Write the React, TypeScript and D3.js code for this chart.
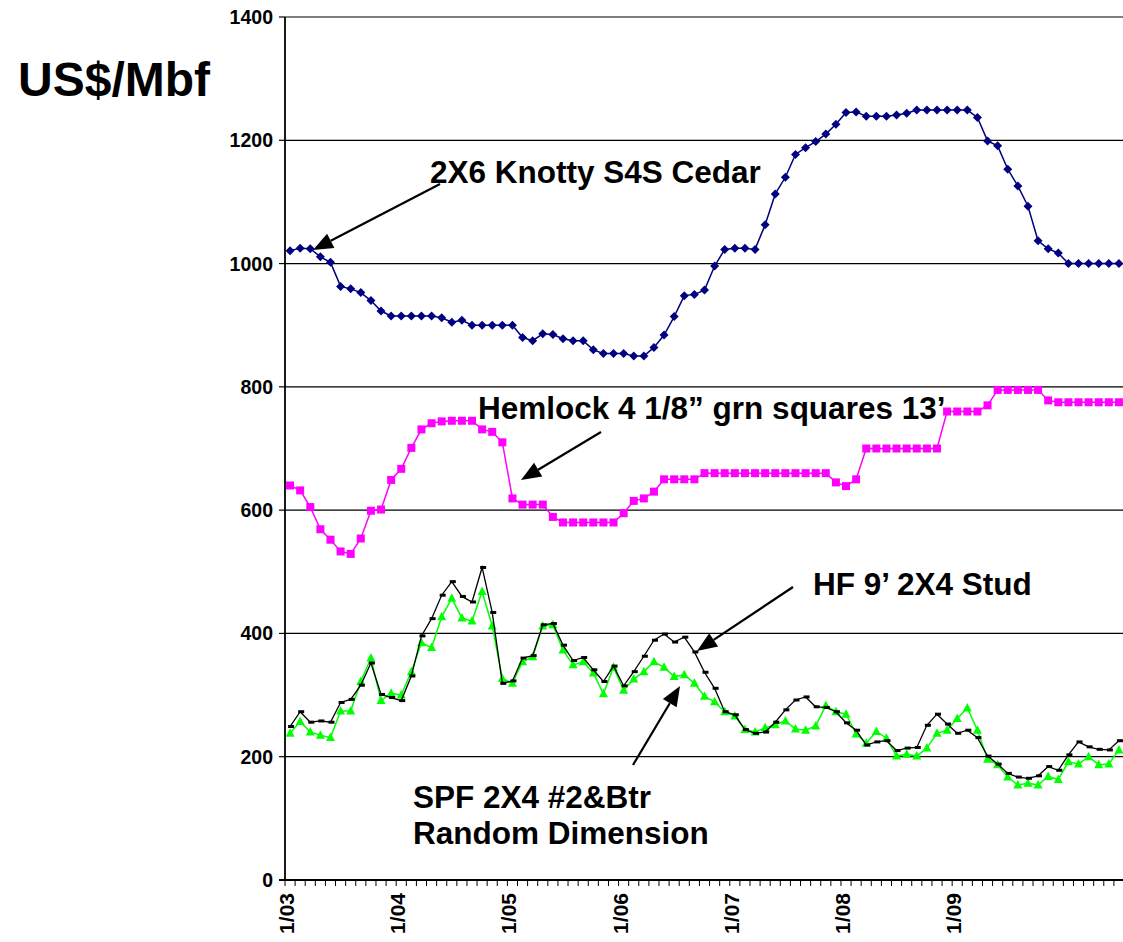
import React from "react";
import * as d3 from "d3";

const cedar = [1021,1025,1024,1011,1002,963,959,953,940,923,915,915,915,915,915,912,905,908,900,900,900,900,900,880,875,886,885,878,875,875,860,854,854,854,850,850,864,884,914,948,950,957,996,1023,1025,1025,1023,1063,1113,1140,1177,1188,1198,1210,1226,1245,1246,1239,1239,1239,1241,1244,1249,1249,1249,1249,1249,1249,1237,1199,1191,1153,1126,1093,1037,1024,1017,1000,1000,1000,1000,1000,1000];
const hemlock = [640,632,605,569,552,533,529,554,599,601,649,667,701,731,741,744,745,745,745,731,727,710,619,609,609,609,589,580,580,580,580,580,580,595,615,619,630,650,650,650,650,660,660,660,660,660,660,660,660,660,660,660,660,660,645,639,650,700,700,700,700,700,700,700,700,760,760,760,760,770,795,795,795,795,795,778,775,775,775,775,775,775,775];
const hfStud = [249,273,256,258,256,288,293,316,352,301,296,291,331,396,424,462,484,460,451,507,434,319,323,360,364,414,416,381,356,361,341,322,347,315,338,363,389,399,386,394,370,337,311,273,268,244,238,240,256,276,292,297,281,280,273,255,243,219,224,226,210,214,215,251,269,253,238,243,231,201,188,173,167,165,169,184,178,203,224,216,212,211,226];
const spf = [238,257,240,235,231,274,274,322,360,291,303,300,338,385,377,427,457,425,420,468,412,327,319,354,362,412,414,373,349,354,336,302,345,308,326,338,354,345,330,333,319,298,289,273,266,244,240,247,252,258,245,243,250,283,273,269,237,222,241,230,201,204,201,214,238,243,262,279,243,196,187,167,154,157,154,168,163,192,188,200,187,188,211];
const yTicks = [0, 200, 400, 600, 800, 1000, 1200, 1400];
const xLabels = ["1/03", "1/04", "1/05", "1/06", "1/07", "1/08", "1/09"];
const xLabelIdx = [0, 11, 22, 33, 44, 55, 66];

const FONT = "'Liberation Sans', Arial, Helvetica, sans-serif";

export default function App() {
  const N = cedar.length;
  const left = 285, right = 1124, top = 17, bottom = 880;
  const x = d3.scaleLinear().domain([0, N]).range([left, right]);
  const y = d3.scaleLinear().domain([0, 1400]).range([bottom, top]);
  const px = (i: number) => x(i + 0.5);
  const line = d3.line<number>().x((_, i) => px(i)).y((d) => y(d));
  const boundaries = d3.range(N + 1);

  const arrow = (x1: number, y1: number, x2: number, y2: number, key: string) => {
    const ang = Math.atan2(y2 - y1, x2 - x1);
    const L = 20, W = 8;
    const bx = x2 - L * Math.cos(ang), by = y2 - L * Math.sin(ang);
    const p1 = [bx + W * Math.sin(ang), by - W * Math.cos(ang)];
    const p2 = [bx - W * Math.sin(ang), by + W * Math.cos(ang)];
    return (
      <g key={key}>
        <line x1={x1} y1={y1} x2={bx} y2={by} stroke="#000" strokeWidth={2.2} />
        <polygon points={`${x2},${y2} ${p1[0]},${p1[1]} ${p2[0]},${p2[1]}`} fill="#000" />
      </g>
    );
  };

  return (
    <svg width={1123} height={942} style={{ position: "absolute", left: 0, top: 0, background: "#fff" }} fontFamily={FONT}>
      <rect x={0} y={0} width={1123} height={942} fill="#fff" />
      {yTicks.filter((t) => t > 0).map((t) => (
        <line key={"g" + t} x1={left} x2={1123} y1={y(t)} y2={y(t)} stroke="#000" strokeWidth={1.2} />
      ))}
      <line x1={left} x2={left} y1={top} y2={bottom} stroke="#000" strokeWidth={1.8} />
      <line x1={left - 6} x2={1123} y1={bottom} y2={bottom} stroke="#000" strokeWidth={1.8} />
      {yTicks.map((t) => (
        <g key={"yt" + t}>
          <line x1={left - 6} x2={left} y1={y(t)} y2={y(t)} stroke="#000" strokeWidth={1.2} />
          <text x={left - 12} y={y(t) + 7} textAnchor="end" fontSize={19.5} fontWeight="bold">{t}</text>
        </g>
      ))}
      {boundaries.map((b) => (
        <line key={"xt" + b} x1={x(b)} x2={x(b)} y1={bottom} y2={bottom + 6} stroke="#000" strokeWidth={1} />
      ))}
      {xLabels.map((lab, k) => (
        <text key={lab} transform={`translate(${x(xLabelIdx[k]) + 9},${bottom + 13}) rotate(-90)`} textAnchor="end" fontSize={21} fontWeight="bold">{lab}</text>
      ))}

      <path d={line(cedar) || ""} fill="none" stroke="#000080" strokeWidth={1.5} />
      {cedar.map((d, i) => (
        <path key={"c" + i} d={`M${px(i)},${y(d) - 4.5}L${px(i) + 4.5},${y(d)}L${px(i)},${y(d) + 4.5}L${px(i) - 4.5},${y(d)}Z`} fill="#000080" />
      ))}
      <path d={line(hemlock) || ""} fill="none" stroke="#FF00FF" strokeWidth={1.5} />
      {hemlock.map((d, i) => (
        <rect key={"h" + i} x={px(i) - 4} y={y(d) - 4} width={8} height={8} fill="#FF00FF" />
      ))}
      <path d={line(spf) || ""} fill="none" stroke="#00FF00" strokeWidth={1.5} />
      {spf.map((d, i) => (
        <path key={"s" + i} d={`M${px(i)},${y(d) - 5}L${px(i) + 4.5},${y(d) + 3.5}L${px(i) - 4.5},${y(d) + 3.5}Z`} fill="#00FF00" />
      ))}
      <path d={line(hfStud) || ""} fill="none" stroke="#000" strokeWidth={1.3} />
      {hfStud.map((d, i) => (
        <rect key={"k" + i} x={px(i) - 2} y={y(d) - 1.5} width={6} height={3} fill="#000" />
      ))}

      <text x={18} y={96} fontSize={48} fontWeight="bold">US$/Mbf</text>
      <text x={430} y={183} fontSize={31.5} fontWeight="bold">2X6 Knotty S4S Cedar</text>
      <text x={478} y={419} fontSize={31.5} fontWeight="bold">Hemlock 4 1/8” grn squares 13’</text>
      <text x={813} y={595} fontSize={31.5} fontWeight="bold">HF 9’ 2X4 Stud</text>
      <text x={413} y={808} fontSize={31.5} fontWeight="bold">SPF 2X4 #2&amp;Btr</text>
      <text x={413} y={844} fontSize={31.5} fontWeight="bold">Random Dimension</text>
      {arrow(440, 184, 313, 250, "a1")}
      {arrow(601, 432, 521, 480, "a2")}
      {arrow(793, 587, 697, 651, "a3")}
      {arrow(633, 765, 680, 686, "a4")}
    </svg>
  );
}
